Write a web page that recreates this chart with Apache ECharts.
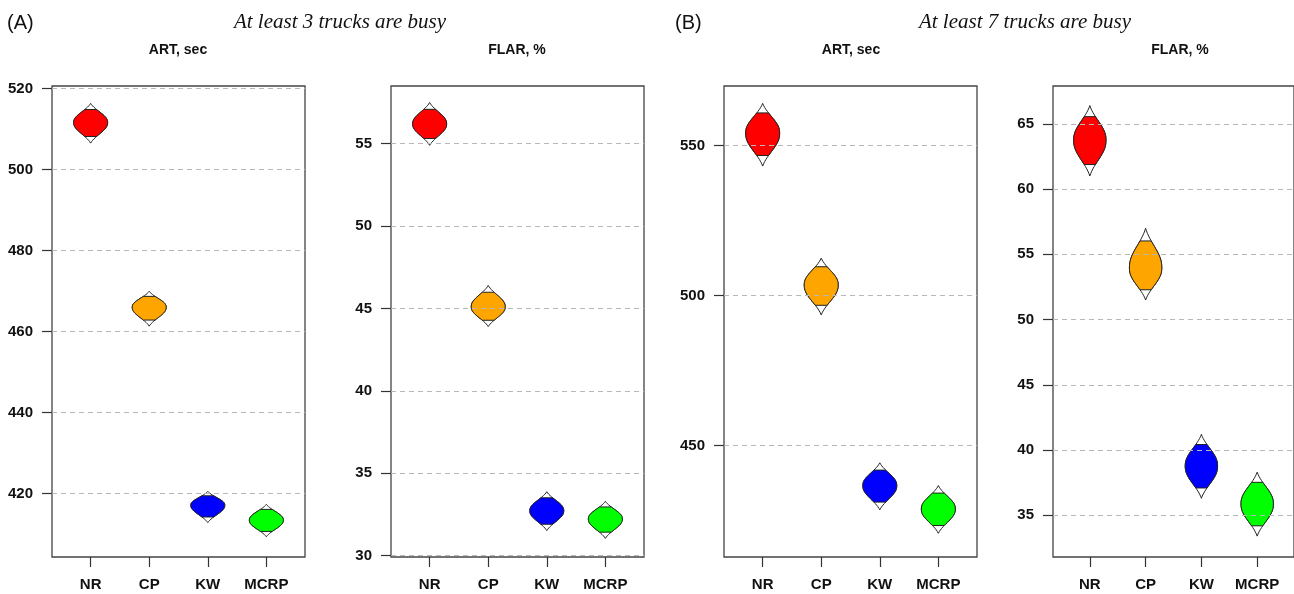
<!DOCTYPE html>
<html>
<head>
<meta charset="utf-8">
<script src="https://cdn.jsdelivr.net/npm/echarts@6/dist/echarts.min.js"></script>
<style>
html,body{margin:0;padding:0;background:#fff;}
#main{width:1294px;height:594px;}
</style>
</head>
<body>
<div id="main"></div>
<script>
var categories = ['NR', 'CP', 'KW', 'MCRP'];
var colors = ['#ff0000', '#ffa500', '#0000ff', '#00ff00'];

// (A) at least 3 trucks busy
var artA_mid = [511.6, 466.0, 417.1, 413.4];
var artA_lo  = [506.5, 461.3, 412.8, 409.3];
var artA_hi  = [516.3, 469.9, 420.5, 417.3];
var artA_ticks = [420, 440, 460, 480, 500, 520];

var flarA_mid = [56.2, 45.1, 32.73, 32.23];
var flarA_lo  = [54.9, 43.9, 31.52, 31.05];
var flarA_hi  = [57.5, 46.4, 33.88, 33.3];
var flarA_ticks = [30, 35, 40, 45, 50, 55];

// (B) at least 7 trucks busy
var artB_mid = [554.2, 503.6, 436.7, 428.9];
var artB_lo  = [543.2, 493.6, 428.6, 420.8];
var artB_hi  = [564.1, 512.5, 444.3, 436.7];
var artB_ticks = [450, 500, 550];

var flarB_mid = [63.75, 53.95, 38.77, 35.87];
var flarB_lo  = [61.0, 51.5, 36.3, 33.4];
var flarB_hi  = [66.4, 57.0, 41.2, 38.3];
var flarB_ticks = [35, 40, 45, 50, 55, 60, 65];

var panels = [
  {left: 52,   min: 404.3, max: 520.6, mid: artA_mid,  lo: artA_lo,  hi: artA_hi,  ticks: artA_ticks},
  {left: 391,  min: 29.92, max: 58.5,  mid: flarA_mid, lo: flarA_lo, hi: flarA_hi, ticks: flarA_ticks},
  {left: 724,  min: 412.9, max: 569.9, mid: artB_mid,  lo: artB_lo,  hi: artB_hi,  ticks: artB_ticks},
  {left: 1053, min: 31.8,  max: 67.9,  mid: flarB_mid, lo: flarB_lo, hi: flarB_hi, ticks: flarB_ticks}
];

var HALF_W = 0.29;
var FILL_T = 0.68;
var labelFont = 'Liberation Sans, Arial, Helvetica, sans-serif';

// violin half-width profile, t runs -1..1 from low tail to high tail
function widthAt(t) {
  var a = Math.abs(t);
  return HALF_W * Math.exp(-Math.pow(a / 0.5, 2.3) / 2) * (1 - Math.pow(a, 8));
}

function shape(api, x, mid, lo, hi, tmax) {
  var n = 30, right = [], left = [];
  for (var i = 0; i <= n; i++) {
    var t = -tmax + 2 * tmax * i / n;
    var y = t < 0 ? mid + t * (mid - lo) : mid + t * (hi - mid);
    var w = widthAt(t);
    right.push(api.coord([x + w, y]));
    left.unshift(api.coord([x - w, y]));
  }
  return right.concat(left);
}

function renderViolin(params, api) {
  var x = api.value(0), mid = api.value(1), lo = api.value(2), hi = api.value(3);
  var col = colors[params.dataIndex];
  return {
    type: 'group',
    children: [
      {type: 'polygon', shape: {points: shape(api, x, mid, lo, hi, 1)},
       style: {fill: '#fff', stroke: '#222', lineWidth: 1}},
      {type: 'polygon', shape: {points: shape(api, x, mid, lo, hi, FILL_T)},
       style: {fill: col, stroke: '#222', lineWidth: 1}}
    ]
  };
}

var grids = [], xAxes = [], yAxes = [], series = [];
panels.forEach(function (p, k) {
  grids.push({left: p.left, top: 86, width: 253, height: 471, show: true,
              borderColor: '#444', borderWidth: 1.3, backgroundColor: 'transparent'});
  xAxes.push({
    type: 'value', gridIndex: k, min: 0.34, max: 4.66,
    axisLine: {show: false},
    splitLine: {show: false},
    axisTick: {show: true, length: 10, customValues: [1, 2, 3, 4], lineStyle: {color: '#333', width: 1.2}},
    axisLabel: {customValues: [1, 2, 3, 4], margin: 20, fontSize: 15, fontWeight: 'bold',
                fontFamily: labelFont, color: '#111',
                formatter: function (v) { return categories[Math.round(v) - 1]; }}
  });
  yAxes.push({
    type: 'value', gridIndex: k, min: p.min, max: p.max,
    axisLine: {show: false},
    splitLine: {show: false},
    axisTick: {show: true, length: 10, customValues: p.ticks, lineStyle: {color: '#333', width: 1.2}},
    axisLabel: {customValues: p.ticks, margin: 19, fontSize: 15, fontWeight: 'bold',
                fontFamily: labelFont, color: '#111'}
  });
  var data = categories.map(function (c, i) {
    return [i + 1, p.mid[i], p.lo[i], p.hi[i]];
  });
  series.push({
    type: 'custom', xAxisIndex: k, yAxisIndex: k,
    renderItem: renderViolin, data: data, silent: true,
    markLine: {
      silent: true, symbol: ['none', 'none'], animation: false,
      label: {show: false},
      lineStyle: {type: [5, 4], color: '#b8b8b8', width: 1},
      data: p.ticks.map(function (v) { return {yAxis: v}; })
    }
  });
});

function txt(x, y, s, font, align) {
  return {type: 'text', x: x, y: y,
          style: {text: s, font: font, fill: '#111', align: align || 'center', verticalAlign: 'middle'}};
}

var chart = echarts.init(document.getElementById('main'));
chart.setOption({
  animation: false,
  grid: grids,
  xAxis: xAxes,
  yAxis: yAxes,
  series: series,
  graphic: [
    txt(7, 23, '(A)', '20px ' + labelFont, 'left'),
    txt(340, 22, 'At least 3 trucks are busy', 'italic 21px Liberation Serif, Times New Roman, serif'),
    txt(675, 23, '(B)', '20px ' + labelFont, 'left'),
    txt(1025, 22, 'At least 7 trucks are busy', 'italic 21px Liberation Serif, Times New Roman, serif'),
    txt(178, 50, 'ART, sec', 'bold 14px ' + labelFont),
    txt(517, 50, 'FLAR, %', 'bold 14px ' + labelFont),
    txt(851, 50, 'ART, sec', 'bold 14px ' + labelFont),
    txt(1180, 50, 'FLAR, %', 'bold 14px ' + labelFont)
  ]
});
</script>
</body>
</html>
